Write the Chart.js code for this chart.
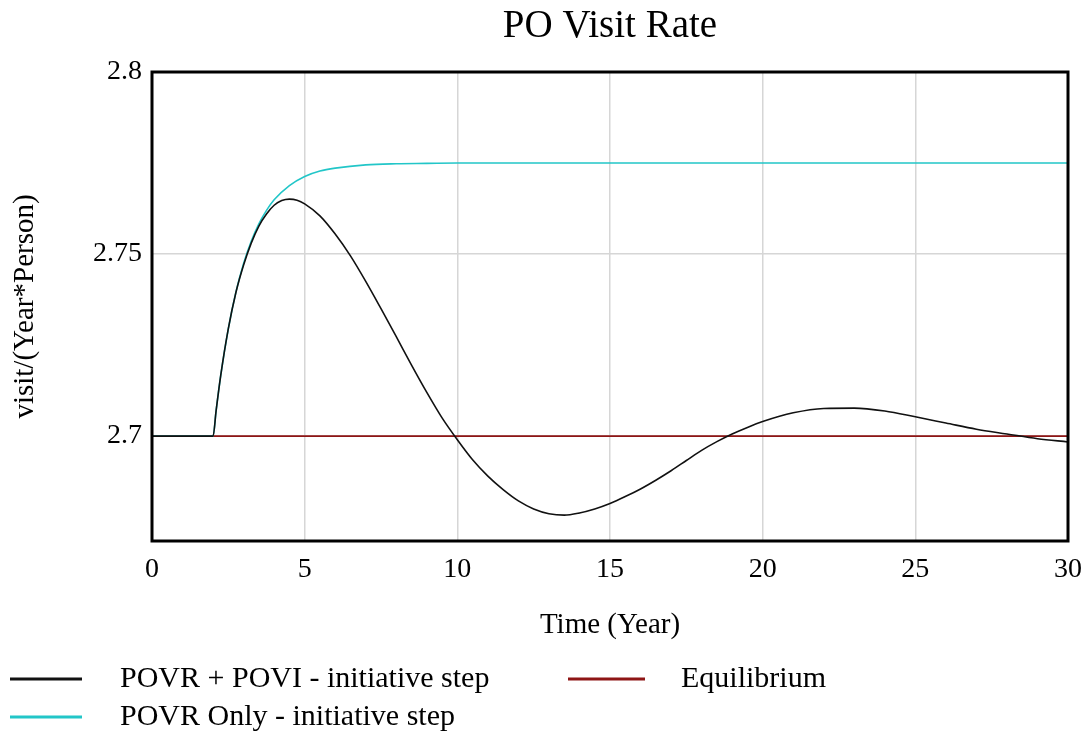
<!DOCTYPE html>
<html>
<head>
<meta charset="utf-8">
<script src="https://cdn.jsdelivr.net/npm/chart.js@4/dist/chart.umd.min.js"></script>
<style>
  html, body { margin: 0; padding: 0; background: #ffffff; }
  #wrap { width: 1083px; height: 732px; position: relative; }
</style>
</head>
<body>
<div id="wrap"><canvas id="c" width="1083" height="732"></canvas></div>
<script>
// Simulation output, time in years
const chartTitle = 'PO Visit Rate';
const xTitle = 'Time (Year)';
const yTitle = 'visit/(Year*Person)';

const xTicks = [0, 5, 10, 15, 20, 25, 30];
const yTicks = [2.7, 2.75, 2.8];

const seriesNames = ['POVR + POVI - initiative step', 'POVR Only - initiative step', 'Equilibrium'];

const timeBoth = [0, 2, 2.1, 2.25, 2.5, 2.75, 3, 3.25, 3.5, 3.75, 4, 4.25, 4.5, 4.75, 5, 5.5, 6, 6.5, 7, 7.5, 8, 8.5, 9, 9.5, 10, 10.5, 11, 11.5, 12, 12.5, 13, 13.5, 14, 14.5, 15, 15.5, 16, 16.5, 17, 17.5, 18, 18.5, 19, 19.5, 20, 21, 22, 23, 24, 25, 26, 27, 28, 29, 30];
const rateBoth = [2.7, 2.7, 2.7070, 2.7166, 2.7295, 2.7395, 2.7470, 2.7530, 2.7577, 2.7610, 2.7634, 2.7647, 2.7651, 2.7648, 2.7638, 2.7605, 2.7555, 2.7495, 2.7425, 2.7350, 2.7273, 2.7195, 2.7120, 2.7050, 2.6990, 2.6935, 2.6890, 2.6853, 2.6822, 2.6800, 2.6787, 2.6783, 2.6789, 2.6800, 2.6815, 2.6834, 2.6855, 2.6879, 2.6905, 2.6933, 2.6961, 2.6985, 2.7006, 2.7024, 2.7040, 2.7064, 2.7076, 2.7077, 2.7069, 2.7053, 2.7036, 2.7019, 2.7006, 2.6993, 2.6984];

const timeOnly = [0, 2, 2.1, 2.25, 2.5, 2.75, 3, 3.25, 3.5, 3.75, 4, 4.5, 5, 5.5, 6, 7, 8, 9, 10, 15, 20, 25, 30];
const rateOnly = [2.7, 2.7, 2.7070, 2.7166, 2.7295, 2.7396, 2.7474, 2.7535, 2.7583, 2.7620, 2.7649, 2.7688, 2.7713, 2.7728, 2.7736, 2.7745, 2.7748, 2.7749, 2.775, 2.775, 2.775, 2.775, 2.775];

const timeEq = [0, 30];
const rateEq = [2.7, 2.7];

const colors = ['#111111', '#22c6c8', '#8e1515'];

const toXY = (xs, ys) => xs.map((x, i) => ({ x: x, y: ys[i] }));

const FONT = '"Liberation Serif", "Times New Roman", serif';

// Frame, titles and two-column legend drawn on the canvas
const decor = {
  id: 'decor',
  afterDraw(chart) {
    const ctx = chart.ctx;
    const a = chart.chartArea;
    ctx.save();
    ctx.strokeStyle = '#000000';
    ctx.lineWidth = 3;
    ctx.strokeRect(a.left, a.top, a.right - a.left, a.bottom - a.top);

    ctx.fillStyle = '#000000';
    ctx.textAlign = 'center';
    ctx.textBaseline = 'middle';
    ctx.font = '39px ' + FONT;
    ctx.fillText(chartTitle, (a.left + a.right) / 2, 27);

    ctx.font = '29px ' + FONT;
    ctx.fillText(xTitle, (a.left + a.right) / 2, 625);

    ctx.save();
    ctx.translate(25, (a.top + a.bottom) / 2);
    ctx.rotate(-Math.PI / 2);
    ctx.fillText(yTitle, 0, 0);
    ctx.restore();

    const ds = chart.data.datasets;
    const slots = [
      { x0: 10, x1: 82, tx: 120, y: 679 },
      { x0: 10, x1: 82, tx: 120, y: 717 },
      { x0: 568, x1: 645, tx: 681, y: 679 }
    ];
    ctx.textAlign = 'left';
    ctx.font = '30px ' + FONT;
    ds.forEach((d, i) => {
      const s = slots[i];
      ctx.strokeStyle = d.borderColor;
      ctx.lineWidth = 3;
      ctx.beginPath();
      ctx.moveTo(s.x0, s.y);
      ctx.lineTo(s.x1, s.y);
      ctx.stroke();
      ctx.fillStyle = '#000000';
      ctx.fillText(d.label, s.tx, s.y);
    });
    ctx.restore();
  }
};

new Chart(document.getElementById('c'), {
  type: 'line',
  data: {
    datasets: [
      { label: seriesNames[0], data: toXY(timeBoth, rateBoth), borderColor: colors[0], borderWidth: 1.6, order: 0 },
      { label: seriesNames[1], data: toXY(timeOnly, rateOnly), borderColor: colors[1], borderWidth: 1.6, order: 1 },
      { label: seriesNames[2], data: toXY(timeEq, rateEq), borderColor: colors[2], borderWidth: 1.6, order: 2 }
    ]
  },
  options: {
    responsive: false,
    animation: false,
    layout: { padding: { top: 72, right: 15, left: 0, bottom: 0 } },
    elements: {
      point: { radius: 0 },
      line: { cubicInterpolationMode: 'monotone', fill: false }
    },
    plugins: {
      legend: { display: false },
      title: { display: false },
      tooltip: { enabled: false }
    },
    scales: {
      x: {
        type: 'linear',
        min: 0,
        max: 30,
        afterFit(s) { s.height = 191; s.paddingLeft = 0; s.paddingRight = 0; },
        afterBuildTicks(s) { s.ticks = xTicks.map(v => ({ value: v })); },
        grid: { color: '#d6d6d6', lineWidth: 1.5, drawTicks: false },
        border: { display: false },
        ticks: { color: '#000000', padding: 12, maxRotation: 0, font: { family: FONT, size: 28 } }
      },
      y: {
        type: 'linear',
        min: 2.6712,
        max: 2.8,
        afterFit(s) { s.width = 152; s.paddingTop = 0; s.paddingBottom = 0; },
        afterBuildTicks(s) { s.ticks = yTicks.map(v => ({ value: v })); },
        grid: { color: '#d6d6d6', lineWidth: 1.5, drawTicks: false },
        border: { display: false },
        ticks: { color: '#000000', padding: 10, font: { family: FONT, size: 28 }, callback: v => String(v) }
      }
    }
  },
  plugins: [decor]
});
</script>
</body>
</html>
